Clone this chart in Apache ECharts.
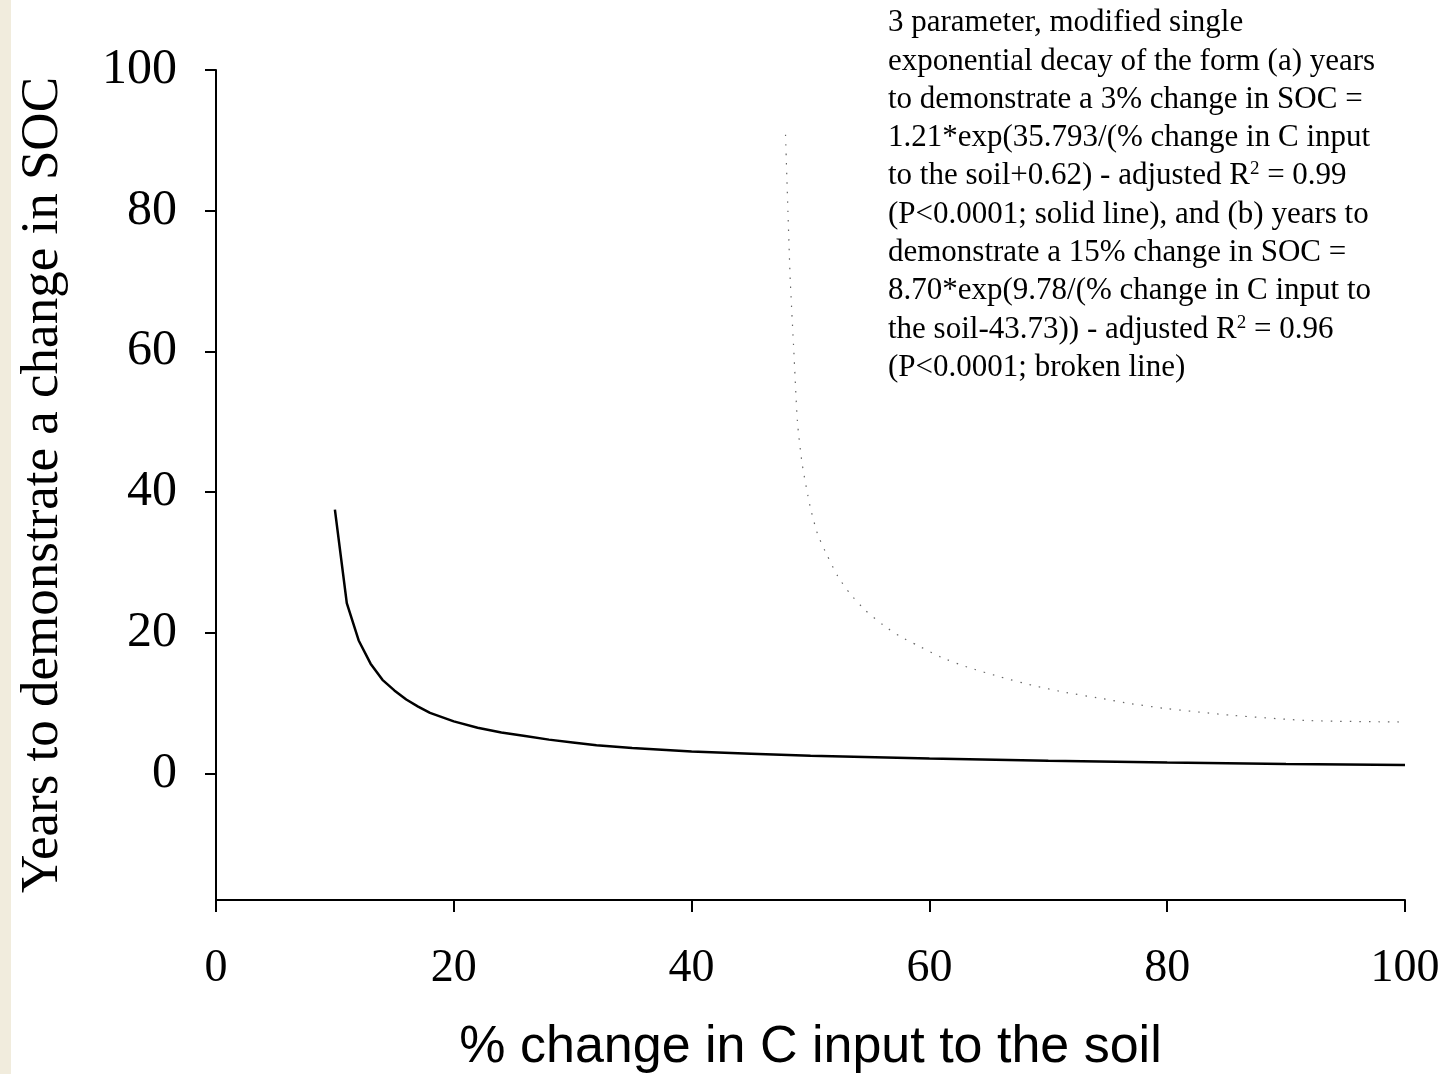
<!DOCTYPE html>
<html>
<head>
<meta charset="utf-8">
<title>Years to demonstrate a change in SOC</title>
<script src="https://cdn.jsdelivr.net/npm/echarts@6/dist/echarts.min.js"></script>
<style>
  html, body { margin: 0; padding: 0; background: #fff; }
  #myChart { width: 1445px; height: 1074px; }
</style>
</head>
<body>
<div id="myChart"></div>
<script>
// values
const solidX = [10, 11, 12, 13, 14, 15, 16, 17, 18, 20, 22, 24, 26, 28, 30, 32, 35, 40, 45, 50, 60, 70, 80, 90, 100];
const solidY = [37.5, 24.2, 18.9, 15.6, 13.3, 11.8, 10.5, 9.5, 8.6, 7.4, 6.5, 5.8, 5.3, 4.8, 4.4, 4.0, 3.6, 3.1, 2.8, 2.5, 2.1, 1.8, 1.55, 1.35, 1.2];

const brokenX = [47.9, 48.1, 48.3, 48.6, 48.9, 49.3, 49.96, 50.6, 51.4, 52.3, 53.3, 54.6, 56.1, 57.5, 59, 61, 63.2, 66, 68.7, 71.5, 74.3, 77, 80, 85.5, 92, 100];
const brokenY = [90.8, 80, 70, 60, 50, 44, 38, 34, 31, 28, 25.6, 23.2, 21.1, 19.5, 18.2, 16.5, 15.1, 13.7, 12.5, 11.5, 10.7, 9.9, 9.2, 8.25, 7.5, 7.3];

const yTicks = [0, 20, 40, 60, 80, 100];

const noteLines = [
    '3 parameter, modified single',
    'exponential decay of the form (a) years',
    'to demonstrate a 3% change in SOC =',
    '1.21*exp(35.793/(% change in C input',
    'to the soil+0.62) - adjusted R{sup|2} = 0.99',
    '(P<0.0001; solid line), and (b) years to',
    'demonstrate a 15% change in SOC =',
    '8.70*exp(9.78/(% change in C input to',
    'the soil-43.73)) - adjusted R{sup|2} = 0.96',
    '(P<0.0001; broken line)'
];

const zip = (xs, ys) => xs.map((x, i) => [x, ys[i]]);

const serif = '"Liberation Serif", "Times New Roman", serif';

const myChart = echarts.init(document.getElementById('myChart'));

const option = {
    backgroundColor: '#fff',
    animation: false,
    grid: { left: 216, right: 40, top: 70, bottom: 174, outerBoundsMode: 'none', containLabel: false },
    graphic: [
        {
            type: 'rect',
            left: 0, top: 0,
            shape: { width: 11, height: 1074 },
            style: { fill: '#f1ecdd' },
            silent: true
        },
        {
            type: 'text',
            left: 888,
            top: 4,
            style: {
                text: noteLines.join('\n'),
                font: '31px ' + serif,
                fill: '#000',
                lineHeight: 38.3,
                rich: {
                    sup: { fontSize: 19, fontFamily: serif, padding: [0, 0, 14, 0], lineHeight: 38.3 }
                }
            }
        }
    ],
    xAxis: {
        type: 'value',
        min: 0,
        max: 100,
        interval: 20,
        name: '% change in C input to the soil',
        nameLocation: 'middle',
        nameGap: 122,
        nameTextStyle: { fontFamily: '"Liberation Sans", Arial, sans-serif', fontSize: 52, color: '#000' },
        axisLine: { onZero: false, lineStyle: { color: '#000', width: 2 } },
        axisTick: { show: true, length: 12, lineStyle: { color: '#000', width: 2 } },
        axisLabel: { fontFamily: serif, fontSize: 46, color: '#000', margin: 46 },
        splitLine: { show: false }
    },
    yAxis: {
        type: 'value',
        min: -18,
        max: 100,
        name: 'Years to demonstrate a change in SOC',
        nameLocation: 'middle',
        nameGap: 146,
        nameTextStyle: { fontFamily: serif, fontSize: 53, color: '#000' },
        axisLine: { show: true, onZero: false, lineStyle: { color: '#000', width: 2 } },
        axisTick: { show: true, length: 11, customValues: yTicks, lineStyle: { color: '#000', width: 2 } },
        axisLabel: { fontFamily: serif, fontSize: 50, color: '#000', margin: 39, customValues: yTicks },
        splitLine: { show: false }
    },
    series: [
        {
            name: '3% change',
            type: 'line',
            data: zip(solidX, solidY),
            symbol: 'none',
            lineStyle: { color: '#000', width: 2.5 }
        },
        {
            name: '15% change',
            type: 'line',
            data: zip(brokenX, brokenY),
            smooth: 0.2,
            symbol: 'none',
            lineStyle: { color: '#666', width: 1.2, type: [1.5, 8] }
        }
    ]
};

myChart.setOption(option);
</script>
</body>
</html>
